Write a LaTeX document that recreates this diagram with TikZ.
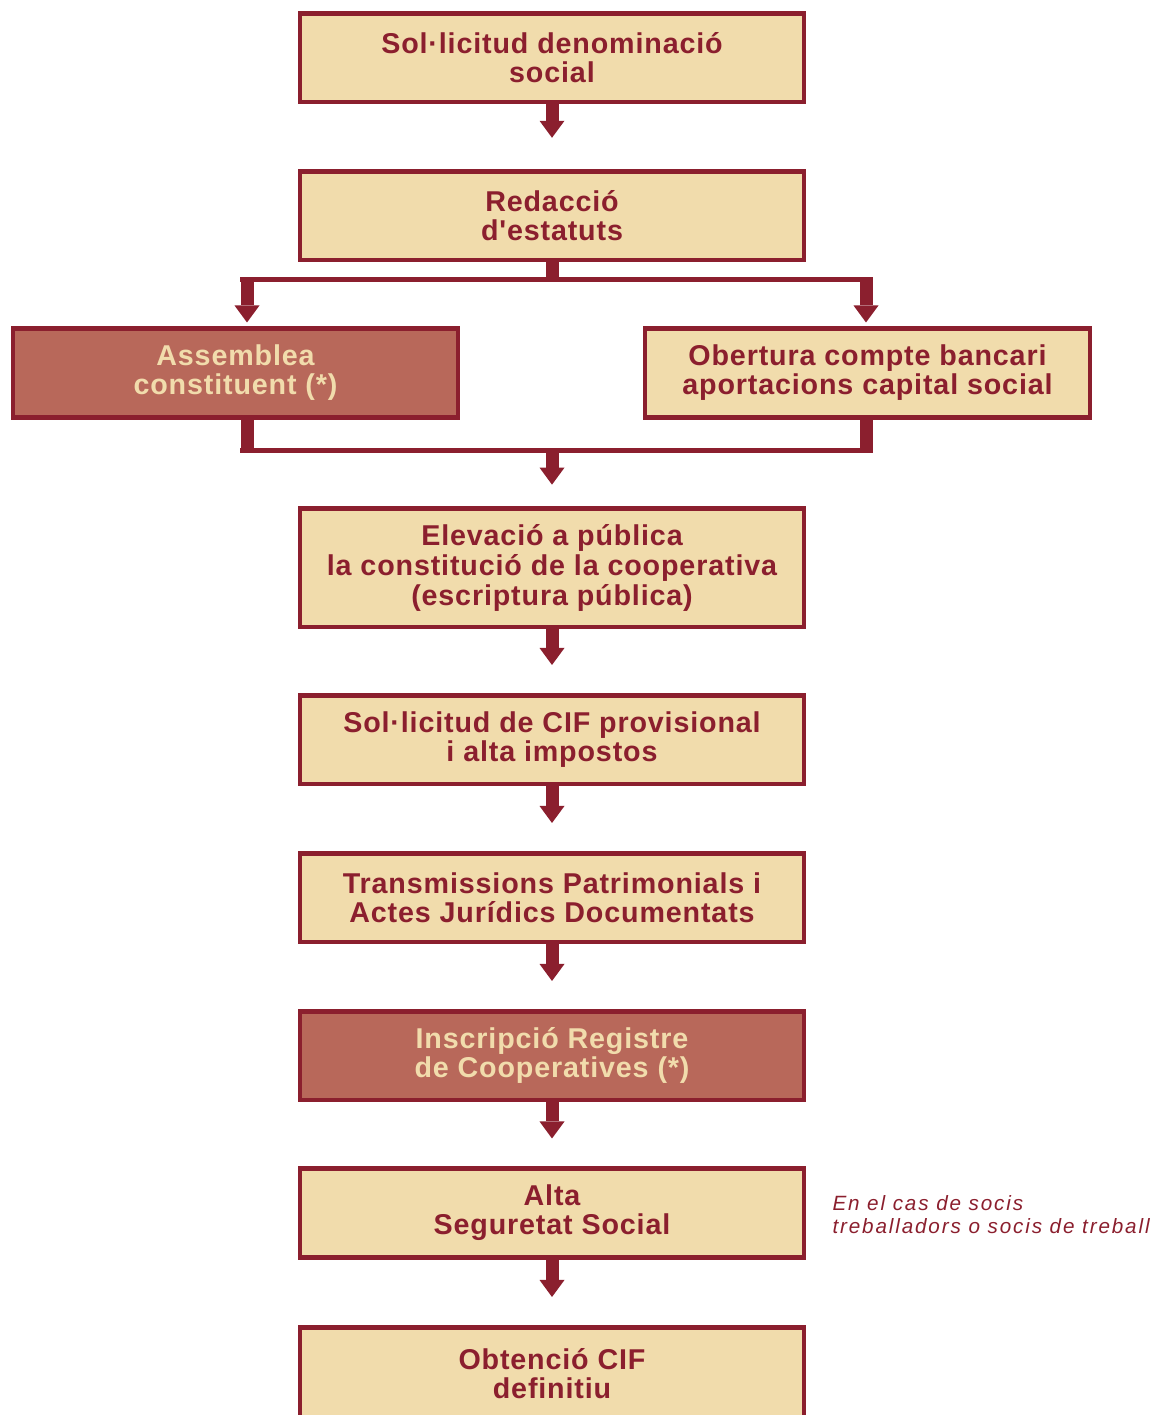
\documentclass[tikz,border=0pt]{standalone}
\usepackage{fontspec}
\usetikzlibrary{arrows.meta}
\newfontfamily\boxfont{Liberation Sans}[LetterSpace=3]
\newfontfamily\notefont{Liberation Sans}[LetterSpace=9]
\definecolor{vermell}{RGB}{139,31,46}
\definecolor{crema}{RGB}{241,220,172}
\definecolor{teula}{RGB}{184,104,90}

\tikzset{every picture/.style={line width=0.75pt}}
\tikzset{
  pas/.style={draw=vermell, fill=crema, line width=3.4pt, minimum width=378pt, minimum height=66.4pt, inner sep=0pt, align=center, text=vermell, font=\boxfont\bfseries\fontsize{21.5pt}{21.75pt}\selectfont},
  pasfosc/.style={pas, fill=teula, text=crema},
  pasample/.style={minimum width=334pt},
  fletxa/.style={draw=vermell, line width=9.75pt, -{Triangle[width=18.75pt,length=12.75pt,line width=0pt]}},
  tija/.style={draw=vermell, line width=9.75pt},
  barra/.style={draw=vermell, line width=3.75pt, shorten <=-4.9pt, shorten >=-4.9pt}
}

\begin{document}
\begin{tikzpicture}[x=0.75pt,y=0.75pt,yscale=-1,xscale=1]
\useasboundingbox (0,0) rectangle (1152,1415);

% Text Node
\node (b1) at (552,57.5) [pas] {Sol·licitud denominació\\social};
% Text Node
\node (b2) at (552,215.5) [pas] {Redacció\\d'estatuts};
% Text Node
\node (b3a) at (235.5,373) [pasfosc, pasample] {Assemblea\\constituent (*)};
% Text Node
\node (b3b) at (867.5,373) [pas, pasample] {Obertura compte bancari\\aportacions capital social};
% Text Node
\node (b4) at (552,567.5) [pas, minimum height=88.9pt, font=\boxfont\bfseries\fontsize{21.5pt}{22.5pt}\selectfont] {Elevació a pública\\la constitució de la cooperativa\\(escriptura pública)};
% Text Node
\node (b5) at (552,739.5) [pas] {Sol·licitud de CIF provisional\\i alta impostos};
% Text Node
\node (b6) at (552,897.5) [pas] {Transmissions Patrimonials i\\Actes Jurídics Documentats};
% Text Node
\node (b7) at (552,1055.5) [pasfosc] {Inscripció Registre\\de Cooperatives (*)};
% Text Node
\node (b8) at (552,1213) [pas] {Alta\\Seguretat Social};
% Text Node
\node (b9) at (552,1373.5) [pas, minimum height=69.4pt] {Obtenció CIF\\definitiu};
% Text Node
\node (nota) at (832,1214.5) [anchor=west, inner sep=0pt, align=left, text=vermell, font=\notefont\itshape\fontsize{15.5pt}{17.25pt}\selectfont] {En el cas de socis\\treballadors o socis de treball};

%Straight Lines
\draw [fletxa, shorten >=23.4pt] (b1) -- (b2);

% split
\coordinate (split) at (552,279.5);
\coordinate (dl) at (247,279.5);
\coordinate (dr) at (866,279.5);
\draw [tija] (b2.south) -- (split);
\draw [barra] (dl) -- (dr);
\draw [fletxa, shorten >=3pt] (dl) -- (dl |- b3a.north);
\draw [fletxa, shorten >=3pt] (dr) -- (dr |- b3b.north);

% merge
\coordinate (merge) at (552,450.5);
\coordinate (ml) at (247,450.5);
\coordinate (mr) at (866,450.5);
\draw [tija] (ml |- b3a.south) -- (ml);
\draw [tija] (mr |- b3b.south) -- (mr);
\draw [barra] (ml) -- (mr);
\draw [fletxa, shorten >=16pt] (merge) -- (b4);

%Straight Lines
\draw [fletxa, shorten >=21pt] (b4) -- (b5);
\draw [fletxa, shorten >=21pt] (b5) -- (b6);
\draw [fletxa, shorten >=21pt] (b6) -- (b7);
\draw [fletxa, shorten >=21pt] (b7) -- (b8);
\draw [fletxa, shorten >=21pt] (b8) -- (b9);

\end{tikzpicture}
\end{document}
